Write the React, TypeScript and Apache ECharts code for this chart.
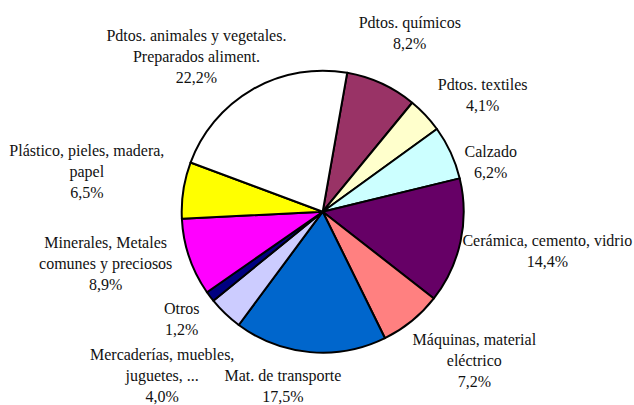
import React, { useEffect, useRef } from "react";
import * as echarts from "echarts";

const categories = [
  "Pdtos. químicos",
  "Pdtos. textiles",
  "Calzado",
  "Cerámica, cemento, vidrio",
  "Máquinas, material\neléctrico",
  "Mat. de transporte",
  "Mercaderías, muebles,\njuguetes, ...",
  "Otros",
  "Minerales, Metales\ncomunes y preciosos",
  "Plástico, pieles, madera,\npapel",
  "Pdtos. animales y vegetales.\nPreparados aliment.",
];
const values = [8.2, 4.1, 6.2, 14.4, 7.2, 17.5, 4.0, 1.2, 8.9, 6.5, 22.2];
const colors = [
  "#993366",
  "#FFFFCC",
  "#CCFFFF",
  "#660066",
  "#FF8080",
  "#0066CC",
  "#CCCCFF",
  "#000080",
  "#FF00FF",
  "#FFFF00",
  "#FFFFFF",
];
// small manual label adjustments (px), as in the original chart
const labelNudges: [number, number][] = [
  [3, -23],
  [18, 0],
  [8, 22],
  [-5, 3],
  [18, 8],
  [-21, 4],
  [-7, 33],
  [-7, 4],
  [-12, -7],
  [-11, -13],
  [-7, 2],
];

const CX = 322.7;
const CY = 211.7;
const R = 141;
const START_ANGLE = 80;
const GAP = 9;
const FONT = "'Liberation Serif', 'Times New Roman', serif";

export default function App() {
  const ref = useRef<HTMLDivElement>(null);
  useEffect(() => {
    if (!ref.current) return;
    const chart = echarts.init(ref.current, undefined, { renderer: "svg" });
    const total = values.reduce((a, b) => a + b, 0);
    chart.setOption({
      animation: false,
      backgroundColor: "#ffffff",
      textStyle: { fontFamily: FONT },
      series: [
        {
          type: "pie",
          center: [CX, CY],
          radius: R,
          startAngle: START_ANGLE,
          clockwise: true,
          avoidLabelOverlap: false,
          data: categories.map((name, i) => ({
            name,
            value: values[i],
            itemStyle: { color: colors[i] },
          })),
          itemStyle: { borderColor: "#000000", borderWidth: 2 },
          emphasis: { disabled: true },
          label: {
            show: true,
            position: "outside",
            color: "#111111",
            fontFamily: FONT,
            fontSize: 16,
            lineHeight: 21,
            align: "center",
            formatter: (p: any) =>
              p.name + "\n" + values[p.dataIndex].toFixed(1).replace(".", ",") + "%",
          },
          labelLine: { show: false },
          labelLayout: (p: any) => {
            const idx = p.dataIndex;
            let cum = 0;
            for (let i = 0; i < idx; i++) cum += values[i];
            const mid = 90 - START_ANGLE + ((cum + values[idx] / 2) / total) * 360;
            const rad = (mid * Math.PI) / 180;
            const ux = Math.sin(rad);
            const uy = -Math.cos(rad);
            const w = p.labelRect.width;
            const h = p.labelRect.height;
            const n = labelNudges[idx];
            return {
              x: CX + (R + GAP) * ux + (w / 2) * ux + n[0],
              y: CY + (R + GAP) * uy + (h / 2) * uy + n[1],
              align: "center",
              verticalAlign: "middle",
            };
          },
        },
      ],
    });
    return () => chart.dispose();
  }, []);
  return (
    <div
      ref={ref}
      style={{ position: "absolute", left: 0, top: 0, width: 634, height: 405 }}
    />
  );
}
